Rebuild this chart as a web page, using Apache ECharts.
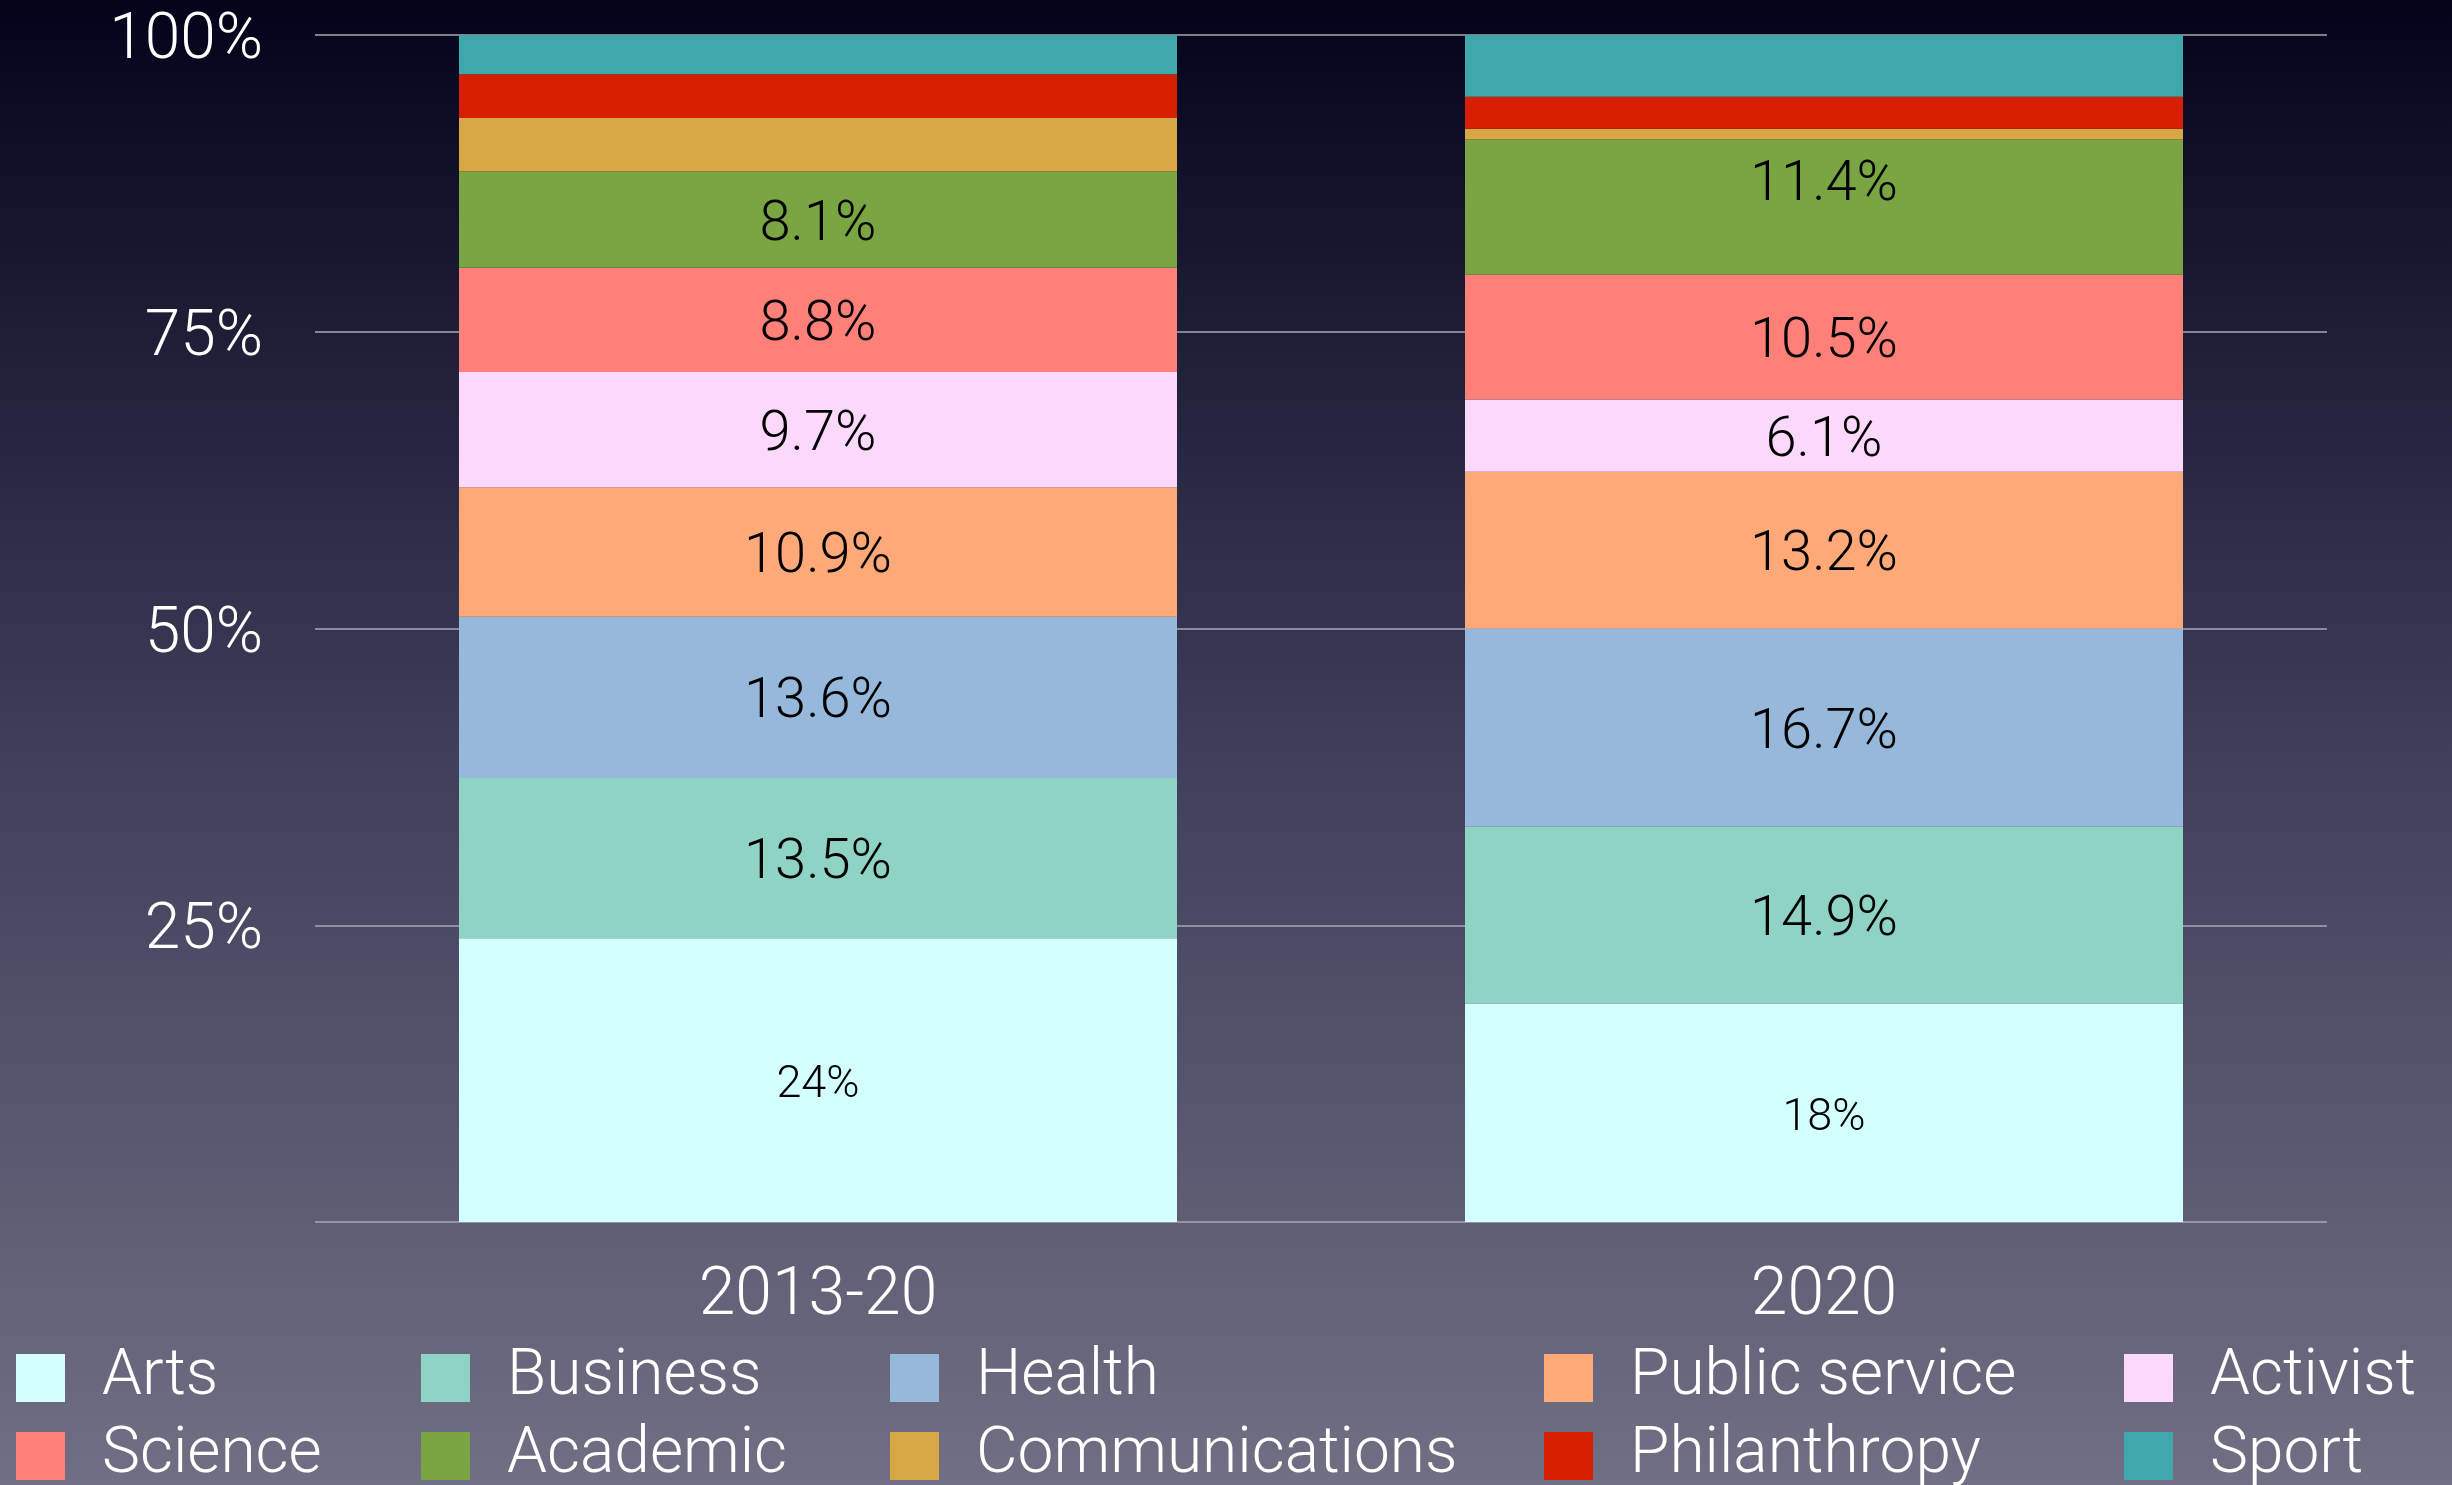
<!DOCTYPE html>
<html>
<head>
<meta charset="UTF-8">
<title>Career fields</title>
<script src="https://cdn.jsdelivr.net/npm/echarts@6/dist/echarts.min.js"></script>
<style>
    html,body{margin:0;padding:0;width:100%;height:100%;overflow:hidden;}
    #chart{width:2452px;height:1485px;}
</style>
</head>
<body>
<div id="chart"></div>
<script>
// categories and values (percent of each period), bottom of stack first
var periods = ['2013-20', '2020'];
var fields = ['Arts', 'Business', 'Health', 'Public service', 'Activist',
              'Science', 'Academic', 'Communications', 'Philanthropy', 'Sport'];
var arts          = [23.9, 18.4];
var business      = [13.5, 14.9];
var health        = [13.6, 16.7];
var publicService = [10.9, 13.2];
var activist      = [9.7, 6.1];
var science       = [8.8, 10.5];
var academic      = [8.1, 11.4];
var communications= [4.5, 0.9];
var philanthropy  = [3.7, 2.7];
var sport         = [3.3, 5.2];
var yTicks = [0, 25, 50, 75, 100];

var values = [arts, business, health, publicService, activist,
              science, academic, communications, philanthropy, sport];
var colors = ['#d4ffff', '#8fd3c5', '#95b8db', '#ffa878', '#fdd8fd',
              '#ff7f79', '#79a543', '#d6a744', '#d51f00', '#3ea8aa'];

var font = 'Roboto, "Helvetica Neue", Arial, sans-serif';

var series = fields.map(function (name, i) {
    var data = values[i].map(function (v, j) {
        // 2020 academic label sits a little above the middle of its block
        if (name === 'Academic' && j === 1) {
            return {value: v, label: {offset: [0, -21]}};
        }
        return v;
    });
    return {
        name: name,
        type: 'bar',
        stack: 'all',
        barWidth: 718,
        data: data,
        itemStyle: {color: colors[i]},
        label: {
            show: i < 7,
            position: 'inside',
            offset: [0, 6],
            color: '#000',
            fontFamily: font,
            fontWeight: 300,
            fontSize: i === 0 ? 45 : 56,
            formatter: function (p) {
                return (i === 0 ? Math.round(p.value) : p.value.toFixed(1)) + '%';
            }
        }
    };
});

// legend: one small legend per item, 5 columns x 2 rows
var legendLefts = [16, 421, 890, 1544, 2124];
var legendTops = [1346, 1424];
var legends = fields.map(function (name, k) {
    return {
        orient: 'horizontal',
        left: legendLefts[k % 5],
        top: legendTops[Math.floor(k / 5)],
        padding: 0,
        itemWidth: 49,
        itemHeight: 48,
        icon: 'rect',
        selectedMode: false,
        data: [name],
        textStyle: {
            color: '#ffffff',
            fontFamily: font,
            fontWeight: 300,
            fontSize: 64,
            lineHeight: 48,
            padding: [0, 0, 0, 32]
        }
    };
});

var chart = echarts.init(document.getElementById('chart'));
chart.setOption({
    animation: false,
    backgroundColor: {
        type: 'linear', x: 0, y: 0, x2: 0, y2: 1,
        colorStops: [
            {offset: 0, color: '#03031a'},
            {offset: 0.5, color: '#3f3e5a'},
            {offset: 1, color: '#706f83'}
        ]
    },
    grid: {left: 315, right: 125, top: 35, bottom: 263},
    legend: legends,
    xAxis: {
        type: 'category',
        data: periods,
        axisLine: {show: false},
        axisTick: {show: false},
        axisLabel: {
            color: '#ffffff',
            fontFamily: font,
            fontWeight: 300,
            fontSize: 66,
            margin: 42
        }
    },
    yAxis: {
        type: 'value',
        min: yTicks[0],
        max: yTicks[yTicks.length - 1],
        interval: 25,
        axisLine: {show: false},
        axisTick: {show: false},
        splitLine: {lineStyle: {color: '#a9a9b2', width: 1.5}},
        axisLabel: {
            color: '#ffffff',
            margin: 52,
            formatter: function (v) { return v === 0 ? '' : '{p|' + v + '%}'; },
            rich: {
                p: {
                    color: '#ffffff',
                    fontFamily: font,
                    fontWeight: 300,
                    fontSize: 64,
                    padding: [14, 0, 0, 0]
                }
            }
        }
    },
    series: series
});
</script>
</body>
</html>
